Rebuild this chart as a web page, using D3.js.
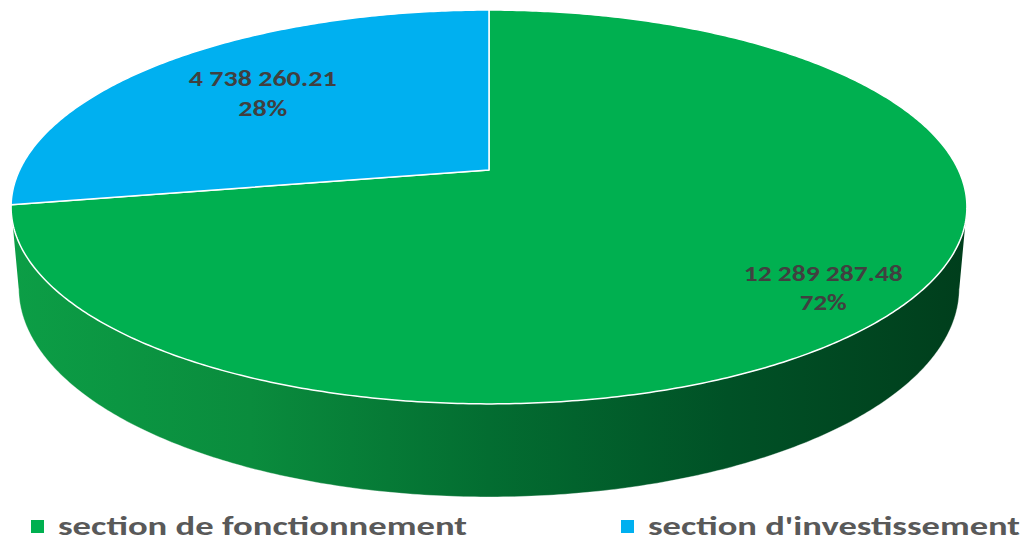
<!DOCTYPE html>
<html>
<head>
<meta charset="utf-8">
<script src="https://cdn.jsdelivr.net/npm/d3@7"></script>
<style>
  body { margin: 0; background: #fff; }
  svg { display: block; }
</style>
</head>
<body>
<script>
// data
const categories = ["section de fonctionnement", "section d'investissement"];
const values = [12289287.48, 4738260.21];
const colors = ["#00B050", "#00B0F0"];

const svgWidth = 1027;
const svgHeight = 544;

// 3d camera for the tilted pie
const cx = 489, cy = 170;
const sinA = 0.4047, cosA = Math.sqrt(1 - sinA * sinA);
const dist = 4.87, focal = 2286, thick = 0.188;

function proj(phi, r, z) {
	const u = r * Math.sin(phi), v = r * Math.cos(phi);
	const depth = dist + v * cosA - z * sinA;
	return [cx + focal * u / depth, cy - focal * (v * sinA + z * cosA) / depth];
}

const fmt = d3.formatLocale({decimal: ".", thousands: " ", grouping: [3]}).format(",.2f");
const pct = d3.format(".0%");
const total = d3.sum(values);

const pie = d3.pie().sort(null).value(d => d);
const arcs = pie(values);

const svg = d3.select('body').append('svg')
	.attr('width', svgWidth)
	.attr('height', svgHeight);

const defs = svg.append('defs');
const grad = defs.append('linearGradient')
	.attr('id', 'side')
	.attr('gradientUnits', 'userSpaceOnUse')
	.attr('x1', 11).attr('x2', 967).attr('y1', 0).attr('y2', 0);
[[0, "#0c9e46"], [0.25, "#0a8c3d"], [0.5, "#036d31"], [0.75, "#005126"], [1, "#003e1c"]]
	.forEach(s => grad.append('stop').attr('offset', s[0]).attr('stop-color', s[1]));

const line = d3.line();

function arcPoints(a0, a1, r, z) {
	const n = Math.max(2, Math.ceil(Math.abs(a1 - a0) / 0.01));
	return d3.range(n + 1).map(i => proj(a0 + (a1 - a0) * i / n, r, z));
}

// side wall, front half only
const silh = Math.PI / 2 + Math.asin(cosA / dist);
arcs.forEach(function(a) {
	const s0 = Math.max(a.startAngle, silh);
	const s1 = Math.min(a.endAngle, 2 * Math.PI - silh);
	if (s1 <= s0) return;
	const pts = arcPoints(s0, s1, 1, 0).concat(arcPoints(s1, s0, 1, -thick));
	svg.append('path')
		.attr('d', line(pts) + 'Z')
		.attr('fill', 'url(#side)');
	svg.append('path')
		.attr('d', line(arcPoints(s0, s1, 1, -thick)))
		.attr('fill', 'none')
		.attr('stroke', '#ffffff')
		.attr('stroke-opacity', 0.35)
		.attr('stroke-width', 1);
});

// top faces
svg.selectAll('path.top')
	.data(arcs)
	.enter()
	.append('path')
	.attr('class', 'top')
	.attr('d', d => line([proj(0, 0, 0)].concat(arcPoints(d.startAngle, d.endAngle, 1, 0))) + 'Z')
	.attr('fill', (d, i) => colors[i])
	.attr('stroke', '#ffffff')
	.attr('stroke-width', 1.5)
	.attr('stroke-linejoin', 'round');

// data labels
const labelR = [0.835, 0.68];
const labels = svg.selectAll('g.lbl')
	.data(arcs)
	.enter()
	.append('g')
	.attr('class', 'lbl')
	.attr('transform', (d, i) => {
		const p = proj((d.startAngle + d.endAngle) / 2, labelR[i], 0);
		return 'translate(' + p[0] + ',' + p[1] + ')';
	})
	.style('font-family', "Calibri, Carlito, 'Open Sans', sans-serif")
	.style('font-weight', 'bold')
	.style('font-size', '23px')
	.attr('fill', '#404040')
	.attr('text-anchor', 'middle');

labels.append('text')
	.attr('y', (d, i) => i === 0 ? -2 : -7)
	.attr('textLength', (d, i) => i === 0 ? 159 : 148)
	.attr('lengthAdjust', 'spacingAndGlyphs')
	.text(d => fmt(d.data));
labels.append('text')
	.attr('y', (d, i) => i === 0 ? 27 : 23)
	.attr('textLength', (d, i) => i === 0 ? 47 : 49)
	.attr('lengthAdjust', 'spacingAndGlyphs')
	.text(d => pct(d.data / total));

// legend
const legendX = [31, 621];
const legend = svg.selectAll('g.legend')
	.data(categories)
	.enter()
	.append('g')
	.attr('class', 'legend')
	.attr('transform', (d, i) => 'translate(' + legendX[i] + ',520)');

legend.append('rect')
	.attr('width', 13)
	.attr('height', 13)
	.attr('fill', (d, i) => colors[i]);

legend.append('text')
	.attr('x', 27)
	.attr('y', 15)
	.style('font-family', "Calibri, Carlito, 'Open Sans', sans-serif")
	.style('font-weight', 'bold')
	.style('font-size', '26px')
	.attr('fill', '#595959')
	.attr('textLength', (d, i) => i === 0 ? 409 : 372)
	.attr('lengthAdjust', 'spacingAndGlyphs')
	.text(d => d);
</script>
</body>
</html>
